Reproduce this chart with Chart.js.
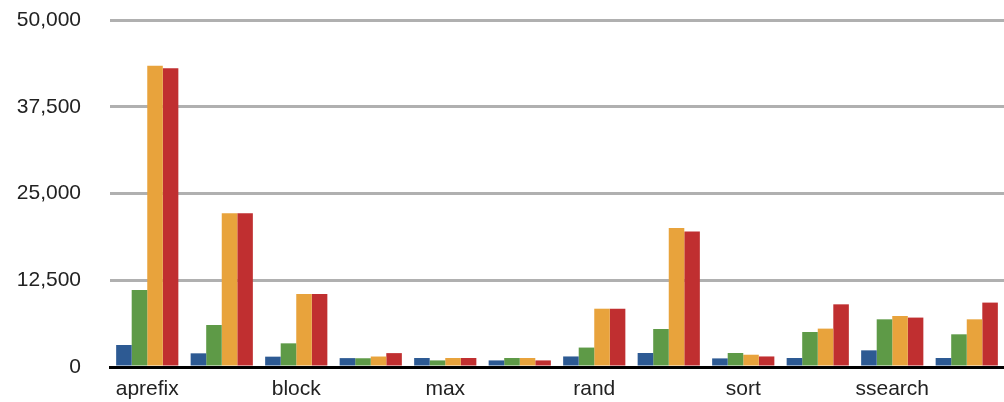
<!DOCTYPE html>
<html>
<head>
<meta charset="utf-8">
<script src="https://cdn.jsdelivr.net/npm/chart.js"></script>
<style>
  html, body { margin: 0; padding: 0; background: #fff; }
  canvas { display: block; }
</style>
</head>
<body>
<canvas id="benchChart" width="1004" height="402"></canvas>
<script>
// benchmark kernels, one group of four bars each
const kernels = ["aprefix", "bfs", "block", "hist", "max", "prefix", "rand", "reduce", "sort", "spmv", "ssearch", "sum"]

const series1 = [3170, 1970, 1490, 1280, 1300, 950, 1520, 2020, 1240, 1300, 2400, 1300]
const series2 = [11100, 6050, 3410, 1260, 950, 1300, 2800, 5480, 2020, 5040, 6870, 4710]
const series3 = [43400, 22150, 10520, 1510, 1300, 1300, 8400, 20030, 1770, 5530, 7350, 6870]
const series4 = [43040, 22150, 10520, 2000, 1300, 950, 8400, 19540, 1520, 9030, 7120, 9280]

const yTicks = [0, 12500, 25000, 37500, 50000]

const colors = ["#2d5a93", "#5e9a47", "#e8a33c", "#c02f30"]

const fontStack = "'Liberation Sans', Arial, sans-serif"

const chart = new Chart(document.getElementById("benchChart"), {
  type: "bar",
  data: {
    labels: kernels,
    datasets: [series1, series2, series3, series4].map((d, i) => ({
      label: "run " + (i + 1),
      data: d,
      backgroundColor: colors[i],
      borderWidth: 0,
      categoryPercentage: 0.835,
      barPercentage: 1.0,
    })),
  },
  options: {
    responsive: false,
    animation: false,
    layout: { padding: { top: 20, right: 0, left: 0, bottom: 0 } },
    plugins: {
      legend: { display: false },
      tooltip: { enabled: false },
    },
    scales: {
      x: {
        grid: { display: false, drawTicks: false },
        border: { display: true, color: "#000", width: 3 },
        ticks: {
          autoSkip: false,
          maxRotation: 0,
          color: "#222",
          padding: 10,
          font: { family: fontStack, size: 21 },
          callback: (v, i) => (i % 2 === 0 ? kernels[i] : ""),
        },
        afterFit: (scale) => { scale.height = 35 },
      },
      y: {
        min: 0,
        max: 50000,
        afterBuildTicks: (scale) => {
          scale.ticks = yTicks.map((v) => ({ value: v }))
        },
        grid: {
          color: (ctx) => (ctx.tick && ctx.tick.value === 0 ? "#000" : "#b0b0b0"),
          lineWidth: 3,
          drawTicks: true,
          tickLength: 29,
          tickColor: "rgba(0,0,0,0)",
        },
        border: { display: false },
        ticks: {
          color: "#222",
          padding: 0,
          font: { family: fontStack, size: 21 },
          callback: (v) => v.toLocaleString("en-US"),
        },
        afterFit: (scale) => { scale.width = 110 },
      },
    },
  },
})
</script>
</body>
</html>
